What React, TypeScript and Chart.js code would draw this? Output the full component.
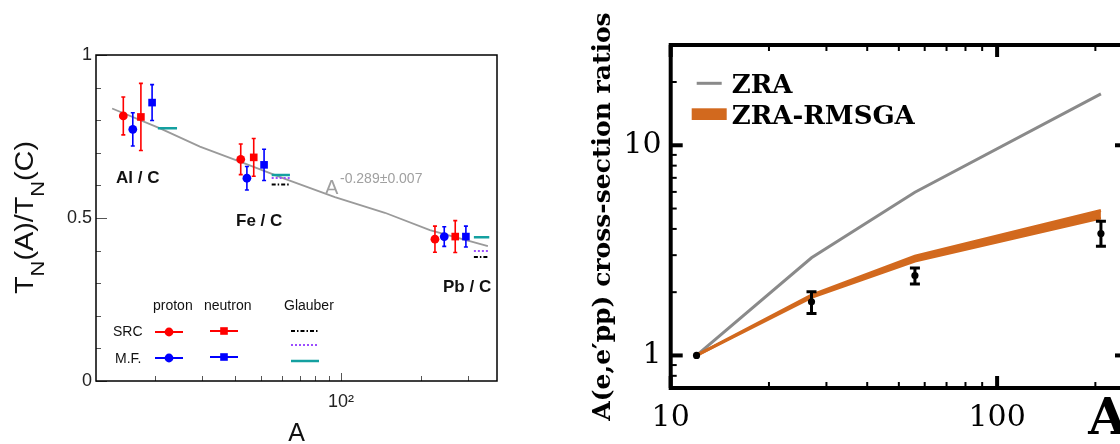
import React, { useEffect, useRef } from "react";
import { Chart, registerables } from "chart.js";
Chart.register(...registerables);

// ================= Left panel: nuclear transparency ratios =================
const nucleusLabels = ["Al / C", "Fe / C", "Pb / C"];

const srcProtonA = [15.2, 42.0, 225.6];
const srcProtonRatio = [0.813, 0.68, 0.435];
const srcProtonErr = [0.058, 0.047, 0.04];

const mfProtonA = [16.5, 44.3, 244.5];
const mfProtonRatio = [0.772, 0.622, 0.443];
const mfProtonErr = [0.051, 0.036, 0.03];

const srcNeutronA = [17.7, 47.0, 268.9];
const srcNeutronRatio = [0.81, 0.686, 0.443];
const srcNeutronErr = [0.103, 0.058, 0.049];

const mfNeutronA = [19.5, 51.4, 294.9];
const mfNeutronRatio = [0.854, 0.663, 0.443];
const mfNeutronErr = [0.055, 0.048, 0.032];

const glauberStartA = [20.5, 54.9, 316];
const glauberEndA = [24.2, 64.3, 361];
const glauberSrc = [null, 0.603, 0.38];
const glauberSrcAlt = [null, 0.623, 0.399];
const glauberMf = [0.775, 0.632, 0.441];

const fitA = [13.8, 20.9, 29.5, 41.7, 61.6, 94.9, 146.3, 216, 356.7];
const fitRatio = [0.836, 0.775, 0.719, 0.673, 0.62, 0.564, 0.516, 0.463, 0.414];
const fitLabelBase = "A";
const fitLabelExp = "-0.289±0.007";

const leftYTicks = [0, 0.5, 1];
const leftYMinor = [0.1, 0.2, 0.3, 0.4, 0.6, 0.7, 0.8, 0.9];
const leftXTicks = [100];
const leftXMinor = [20, 30, 40, 50, 60, 70, 80, 90, 200, 300];

// ================= Right panel: A(e,e'pp) cross-section ratios =================
const rightA = [12, 27, 56, 208];
const zraRatio = [1, 2.915, 5.98, 17.56];
const rmsgaLow = [1, 1.89, 2.81, 4.5];
const rmsgaHigh = [1, 1.935, 2.97, 4.89];
const measuredRatio = [1, 1.8, 2.4, 3.8];
const measuredLow = [1, 1.584, 2.19, 3.31];
const measuredHigh = [1, 2.01, 2.61, 4.35];

const rightXMajor = [10, 100];
const rightXMinor = [20, 30, 40, 50, 60, 70, 80, 90, 200];
const rightYMajor = [1, 10];
const rightYMinor = [0.8, 0.9, 2, 3, 4, 5, 6, 7, 8, 9, 20];

const RED = "#ff0000";
const BLUE = "#0000ff";
const TEAL = "#14a0a0";
const PURPLE = "#9b4dff";
const ORANGE = "#d2691e";
const GRAYLINE = "#8a8a8a";
const SANS = '"Liberation Sans", Arial, sans-serif';
const SERIF = '"DejaVu Serif", serif';

function pts(xs: number[], ys: (number | null)[]) {
  return xs.map((x, i) => ({ x, y: ys[i] }));
}
function glauberSegments(vals: (number | null)[]) {
  const out: any[] = [];
  vals.forEach((v, i) => {
    if (v == null) return;
    out.push({ x: glauberStartA[i], y: v }, { x: glauberEndA[i], y: v }, { x: glauberEndA[i], y: null });
  });
  return out;
}

// error bar plugin: datasets may carry errLow / errHigh arrays
const errorBars = {
  id: "errorBars",
  afterDatasetsDraw(chart: any) {
    const ctx = chart.ctx;
    const ys = chart.scales.y;
    chart.data.datasets.forEach((ds: any, di: number) => {
      if (!ds.errLow) return;
      const meta = chart.getDatasetMeta(di);
      ctx.save();
      ctx.strokeStyle = ds.errColor;
      ctx.lineWidth = ds.errWidth;
      meta.data.forEach((el: any, i: number) => {
        const lo = ds.errLow[i];
        const hi = ds.errHigh[i];
        if (lo == null || hi == null || lo === hi) return;
        const x = el.x;
        const y1 = ys.getPixelForValue(lo);
        const y2 = ys.getPixelForValue(hi);
        ctx.beginPath();
        ctx.moveTo(x, y1);
        ctx.lineTo(x, y2);
        ctx.moveTo(x - ds.errCap, y1);
        ctx.lineTo(x + ds.errCap, y1);
        ctx.moveTo(x - ds.errCap, y2);
        ctx.lineTo(x + ds.errCap, y2);
        ctx.stroke();
      });
      ctx.restore();
    });
  },
};

function line(ctx: any, x1: number, y1: number, x2: number, y2: number) {
  ctx.beginPath();
  ctx.moveTo(x1, y1);
  ctx.lineTo(x2, y2);
  ctx.stroke();
}

const leftDecor = {
  id: "leftDecor",
  afterDraw(chart: any) {
    const { ctx, chartArea } = chart;
    const { left, right, top, bottom } = chartArea;
    const xs = chart.scales.x;
    const ys = chart.scales.y;
    ctx.save();
    // ticks
    ctx.strokeStyle = "#555";
    ctx.lineWidth = 1;
    leftYMinor.forEach((v) => {
      const p = Math.round(ys.getPixelForValue(v)) + 0.5;
      line(ctx, left, p, left + 5, p);
    });
    leftYTicks.forEach((v) => {
      const p = Math.round(ys.getPixelForValue(v)) + 0.5;
      line(ctx, left, p, left + 11, p);
    });
    leftXMinor.forEach((v) => {
      const p = Math.round(xs.getPixelForValue(v)) + 0.5;
      line(ctx, p, bottom, p, bottom - 5);
    });
    leftXTicks.forEach((v) => {
      const p = Math.round(xs.getPixelForValue(v)) + 0.5;
      line(ctx, p, bottom, p, bottom - 8);
    });
    // frame
    ctx.strokeStyle = "#000";
    ctx.lineWidth = 1.5;
    ctx.strokeRect(left, top, right - left, bottom - top);

    // nucleus labels
    ctx.fillStyle = "#111";
    ctx.textBaseline = "alphabetic";
    ctx.textAlign = "left";
    ctx.font = `bold 17px ${SANS}`;
    const labelPos = [
      [116, 183],
      [236, 225.5],
      [443, 291.5],
    ];
    nucleusLabels.forEach((t, i) => ctx.fillText(t, labelPos[i][0], labelPos[i][1]));

    // fit annotation
    ctx.fillStyle = "#a0a0a0";
    ctx.font = `20px ${SANS}`;
    ctx.fillText(fitLabelBase, 325, 194);
    ctx.font = `14px ${SANS}`;
    ctx.fillText(fitLabelExp, 340, 182.5);

    // legend
    ctx.fillStyle = "#111";
    ctx.font = `14px ${SANS}`;
    ctx.fillText("proton", 153, 310);
    ctx.fillText("neutron", 204, 310);
    ctx.fillText("Glauber", 284, 310);
    ctx.fillText("SRC", 113, 335.5);
    ctx.fillText("M.F.", 115, 362.5);
    const mk = (x: number, y: number, color: string, style: string) => {
      ctx.strokeStyle = color;
      ctx.fillStyle = color;
      ctx.lineWidth = 2;
      line(ctx, x - 14, y, x + 14, y);
      if (style === "circle") {
        ctx.beginPath();
        ctx.arc(x, y, 4.4, 0, Math.PI * 2);
        ctx.fill();
      } else {
        ctx.fillRect(x - 3.8, y - 3.8, 7.6, 7.6);
      }
    };
    mk(169, 332, RED, "circle");
    mk(169, 358, BLUE, "circle");
    mk(224, 331, RED, "rect");
    mk(224, 357, BLUE, "rect");
    ctx.lineWidth = 2;
    ctx.strokeStyle = "#000";
    ctx.setLineDash([4, 2, 1.5, 2]);
    line(ctx, 291, 331, 318, 331);
    ctx.strokeStyle = PURPLE;
    ctx.setLineDash([2, 2]);
    line(ctx, 291, 345, 318, 345);
    ctx.setLineDash([]);
    ctx.strokeStyle = TEAL;
    ctx.lineWidth = 2.5;
    line(ctx, 291, 361, 319, 361);

    // y title  T_N(A)/T_N(C)
    const big = 25;
    const small = 19;
    const parts: any[] = [
      { t: "T", s: big, dy: 0 },
      { t: "N", s: small, dy: 11 },
      { t: "(A)/T", s: big, dy: 0 },
      { t: "N", s: small, dy: 11 },
      { t: "(C)", s: big, dy: 0 },
    ];
    ctx.translate(33, 217.5);
    ctx.rotate(-Math.PI / 2);
    ctx.scale(1.15, 1);
    let total = 0;
    parts.forEach((p) => {
      ctx.font = `${p.s}px ${SANS}`;
      p.w = ctx.measureText(p.t).width;
      total += p.w;
    });
    let cx = -total / 2;
    ctx.fillStyle = "#111";
    parts.forEach((p) => {
      ctx.font = `${p.s}px ${SANS}`;
      ctx.fillText(p.t, cx, p.dy);
      cx += p.w;
    });
    ctx.restore();
  },
};

const rightDecor = {
  id: "rightDecor",
  afterDraw(chart: any) {
    const { ctx, chartArea } = chart;
    const { left, right, top, bottom } = chartArea;
    const xs = chart.scales.x;
    const ys = chart.scales.y;
    ctx.save();
    ctx.strokeStyle = "#000";
    ctx.lineCap = "butt";
    ctx.lineWidth = 2;
    rightXMinor.forEach((v) => {
      const p = xs.getPixelForValue(v);
      line(ctx, p, bottom, p, bottom - 6);
      line(ctx, p, top, p, top + 6);
    });
    rightYMinor.forEach((v) => {
      const p = ys.getPixelForValue(v);
      line(ctx, left, p, left + 6, p);
      line(ctx, right, p, right - 6, p);
    });
    ctx.lineWidth = 4;
    rightXMajor.forEach((v) => {
      const p = xs.getPixelForValue(v);
      line(ctx, p, bottom, p, bottom - 12);
      line(ctx, p, top, p, top + 12);
    });
    rightYMajor.forEach((v) => {
      const p = ys.getPixelForValue(v);
      line(ctx, left, p, left + 12, p);
      line(ctx, right, p, right - 12, p);
    });
    ctx.lineWidth = 4;
    ctx.strokeRect(left, top, right - left, bottom - top);

    // legend
    ctx.strokeStyle = GRAYLINE;
    ctx.lineWidth = 3;
    line(ctx, 136.7, 83.3, 161.7, 83.3);
    ctx.fillStyle = ORANGE;
    ctx.fillRect(131.7, 108.3, 35, 11.7);
    ctx.fillStyle = "#000";
    ctx.font = `bold 26px ${SERIF}`;
    ctx.textBaseline = "alphabetic";
    ctx.fillText("ZRA", 171.7, 93);
    ctx.fillText("ZRA-RMSGA", 171.7, 124);
    ctx.restore();
  },
};

function leftConfig(): any {
  const marker = (label: string, xs: number[], ys: number[], err: number[], color: string, style: string) => ({
    label,
    type: "line",
    data: pts(xs, ys),
    showLine: false,
    pointStyle: style,
    pointRadius: style === "circle" ? 4.4 : 5.4,
    pointBackgroundColor: color,
    pointBorderWidth: 0,
    borderColor: color,
    errLow: ys.map((v, i) => v - err[i]),
    errHigh: ys.map((v, i) => v + err[i]),
    errColor: color,
    errWidth: 1.6,
    errCap: 2,
    order: 0,
  });
  return {
    type: "line",
    data: {
      datasets: [
        marker("SRC proton", srcProtonA, srcProtonRatio, srcProtonErr, RED, "circle"),
        marker("M.F. proton", mfProtonA, mfProtonRatio, mfProtonErr, BLUE, "circle"),
        marker("SRC neutron", srcNeutronA, srcNeutronRatio, srcNeutronErr, RED, "rect"),
        marker("M.F. neutron", mfNeutronA, mfNeutronRatio, mfNeutronErr, BLUE, "rect"),
        {
          label: "Glauber SRC",
          data: glauberSegments(glauberSrc),
          borderColor: "#000",
          borderWidth: 2,
          borderDash: [4, 2, 1.5, 2],
          pointRadius: 0,
          order: 1,
        },
        {
          label: "Glauber SRC alt",
          data: glauberSegments(glauberSrcAlt),
          borderColor: PURPLE,
          borderWidth: 2,
          borderDash: [2, 2],
          pointRadius: 0,
          order: 1,
        },
        {
          label: "Glauber M.F.",
          data: glauberSegments(glauberMf),
          borderColor: TEAL,
          borderWidth: 2.5,
          pointRadius: 0,
          order: 1,
        },
        {
          label: "fit",
          data: pts(fitA, fitRatio),
          borderColor: "#9a9a9a",
          borderWidth: 1.8,
          pointRadius: 0,
          order: 2,
        },
      ],
    },
    options: {
      animation: false,
      responsive: false,
      devicePixelRatio: 1,
      events: [],
      layout: { padding: { top: 55, right: 23, bottom: 0, left: 0 } },
      plugins: { legend: { display: false }, tooltip: { enabled: false } },
      scales: {
        x: {
          type: "logarithmic",
          min: 12,
          max: 386,
          grid: { display: false, drawTicks: false },
          border: { display: false },
          afterBuildTicks: (s: any) => {
            s.ticks = leftXTicks.map((value) => ({ value }));
          },
          afterFit: (s: any) => {
            s.height = 63;
          },
          ticks: {
            autoSkip: false,
            maxRotation: 0,
            padding: 10,
            color: "#222",
            font: { family: SANS, size: 18 },
            callback: (v: number) => (v === 100 ? "10²" : ""),
          },
          title: {
            display: true,
            text: "A",
            color: "#111",
            font: { family: SANS, size: 25, lineHeight: 1 },
            padding: { top: 0, bottom: -3 },
          },
        },
        y: {
          type: "linear",
          min: 0,
          max: 1,
          grid: { display: false, drawTicks: false },
          border: { display: false },
          afterBuildTicks: (s: any) => {
            s.ticks = leftYTicks.map((value) => ({ value }));
          },
          afterFit: (s: any) => {
            s.width = 96;
          },
          ticks: {
            padding: 4,
            color: "#222",
            font: { family: SANS, size: 18 },
            callback: (v: number) => String(v),
          },
        },
      },
    },
    plugins: [errorBars, leftDecor],
  };
}

function rightConfig(): any {
  return {
    type: "line",
    data: {
      datasets: [
        {
          label: "ZRA",
          data: pts(rightA, zraRatio),
          borderColor: GRAYLINE,
          borderWidth: 3,
          pointRadius: 0,
          order: 2,
        },
        {
          label: "ZRA-RMSGA low",
          data: pts(rightA, rmsgaLow),
          borderColor: ORANGE,
          borderWidth: 3,
          pointRadius: 0,
          fill: false,
          order: 1,
        },
        {
          label: "ZRA-RMSGA",
          data: pts(rightA, rmsgaHigh),
          borderColor: ORANGE,
          backgroundColor: ORANGE,
          borderWidth: 3,
          pointRadius: 0,
          fill: 1,
          order: 1,
        },
        {
          label: "data",
          data: pts(rightA, measuredRatio),
          showLine: false,
          pointRadius: 3.6,
          pointBorderWidth: 0,
          pointBackgroundColor: "#000",
          borderColor: "#000",
          errLow: measuredLow,
          errHigh: measuredHigh,
          errColor: "#000",
          errWidth: 3,
          errCap: 5,
          order: 0,
        },
      ],
    },
    options: {
      animation: false,
      responsive: false,
      devicePixelRatio: 1,
      events: [],
      layout: { padding: { top: 45, right: 33, bottom: 0, left: 0 } },
      plugins: { legend: { display: false }, tooltip: { enabled: false } },
      scales: {
        x: {
          type: "logarithmic",
          min: 10,
          max: 250,
          grid: { display: false, drawTicks: false },
          border: { display: false },
          afterBuildTicks: (s: any) => {
            s.ticks = rightXMajor.map((value) => ({ value }));
          },
          afterFit: (s: any) => {
            s.height = 56;
          },
          ticks: {
            autoSkip: false,
            maxRotation: 0,
            padding: 12,
            color: "#000",
            font: { family: SERIF, size: 30 },
            callback: (v: number) => String(v),
          },
          title: {
            display: true,
            text: "A",
            align: "end",
            color: "#000",
            font: { family: SERIF, size: 50, weight: "bold", lineHeight: 1 },
            padding: { top: 0, bottom: -2 },
          },
        },
        y: {
          type: "logarithmic",
          min: 0.7,
          max: 30,
          grid: { display: false, drawTicks: false },
          border: { display: false },
          afterBuildTicks: (s: any) => {
            s.ticks = rightYMajor.map((value) => ({ value }));
          },
          afterFit: (s: any) => {
            s.width = 110.7;
          },
          ticks: {
            padding: 9,
            color: "#000",
            font: { family: SERIF, size: 30 },
            callback: (v: number) => String(v),
          },
          title: {
            display: true,
            text: "A(e,e′pp) cross-section ratios",
            color: "#000",
            font: { family: SERIF, size: 25, weight: "bold", lineHeight: 1 },
            padding: { top: 31, bottom: 0 },
          },
        },
      },
    },
    plugins: [errorBars, rightDecor],
  };
}

export default function App() {
  const leftRef = useRef<HTMLCanvasElement>(null);
  const rightRef = useRef<HTMLCanvasElement>(null);
  useEffect(() => {
    const l = new Chart(leftRef.current as HTMLCanvasElement, leftConfig());
    const r = new Chart(rightRef.current as HTMLCanvasElement, rightConfig());
    return () => {
      l.destroy();
      r.destroy();
    };
  }, []);
  return (
    <div
      style={{
        position: "fixed",
        left: 0,
        top: 0,
        width: 1120,
        height: 444,
        overflow: "hidden",
        background: "#fff",
      }}
    >
      <canvas
        ref={leftRef}
        width={520}
        height={444}
        style={{ position: "absolute", left: 0, top: 0, width: 520, height: 444 }}
      />
      <canvas
        ref={rightRef}
        width={600}
        height={444}
        style={{ position: "absolute", left: 560, top: 0, width: 600, height: 444 }}
      />
    </div>
  );
}
